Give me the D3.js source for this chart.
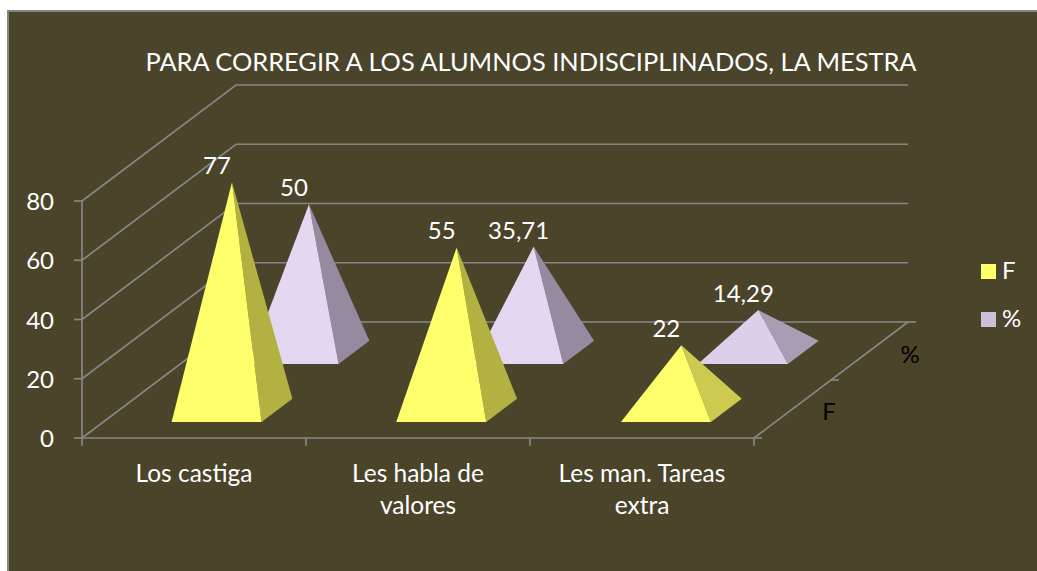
<!DOCTYPE html>
<html><head><meta charset="utf-8">
<script src="https://cdn.jsdelivr.net/npm/d3@7"></script>
<style>html,body{margin:0;padding:0;background:#fff}svg{display:block}text{font-family:Lato,"Open Sans",sans-serif}</style>
</head><body><svg id="c" width="1037" height="571"></svg>
<script>
const titleText = "PARA CORREGIR A LOS ALUMNOS INDISCIPLINADOS, LA MESTRA";
const categories = ["Los castiga", "Les habla de valores", "Les man. Tareas extra"];
const categoryLines = [["Los castiga"], ["Les habla de", "valores"], ["Les man. Tareas", "extra"]];
const seriesNames = ["F", "%"];
const valuesF = [77, 55, 22];
const valuesPct = [50, 35.71, 14.29];
const labelsF = ["77", "55", "22"];
const labelsPct = ["50", "35,71", "14,29"];
const yTicks = [0, 20, 40, 60, 80];

const svg = d3.select("#c");
const grid = "#868686", bg = "#4A442A";
svg.append("rect").attr("x", 8).attr("y", 11).attr("width", 1040).attr("height", 580)
  .attr("fill", bg).attr("stroke", grid).attr("stroke-width", 2);

// 3D projection: plot floor sheared along depth axis
const x0 = 82, y0 = 438, depthDx = 154, depthDy = -116;
const xAxisScale = d3.scaleBand().domain(categories).range([x0, 754]);
const xBars = d3.scaleBand().domain(categories).range([x0 + 1, 757]);
const yH = d3.scaleLinear().domain([0, 80]).range([0, 237]);
const depth = d3.scaleBand().domain(seriesNames).range([0, 1]);
const proj = (x, d, h = 0) => [x + depthDx * d, y0 + depthDy * d - h];

// back wall + side gridlines
const gl = svg.append("g").attr("fill", "none").attr("stroke", grid).attr("stroke-width", 1.7);
yTicks.forEach(t => {
  const a = proj(x0, 0, yH(t)), b = proj(x0, 1, yH(t)), c = proj(754, 1, yH(t));
  gl.append("path").attr("d", d3.line()([a, b, c]));
  gl.append("line").attr("x1", x0 - 8).attr("x2", x0).attr("y1", a[1]).attr("y2", a[1]);
});
gl.append("line").attr("x1", x0).attr("x2", x0).attr("y1", proj(x0, 0, yH(80))[1]).attr("y2", y0);
// floor front and right edges
gl.append("line").attr("x1", x0).attr("x2", 754).attr("y1", y0).attr("y2", y0);
const fr0 = proj(754, 0), fr1 = proj(754, 1);
gl.append("line").attr("x1", fr0[0]).attr("y1", fr0[1]).attr("x2", fr1[0]).attr("y2", fr1[1]);
[0, 0.5, 1].forEach(d => {
  const p = proj(754, d);
  gl.append("line").attr("x1", p[0]).attr("x2", p[0] + 8).attr("y1", p[1]).attr("y2", p[1]);
});
[...categories.map(c => xAxisScale(c)), 754].forEach(x => {
  gl.append("line").attr("x1", x).attr("x2", x).attr("y1", y0).attr("y2", y0 + 8);
});

// pyramids: back series first, then front series
const sideF = d3.scaleLinear().domain([22, 35]).range(["#CCCB50", "#B3B142"]).clamp(true);
const sidePct = d3.scaleLinear().domain([14, 35]).range(["#A89EB4", "#958A9F"]).clamp(true);
const frontPct = d3.scaleLinear().domain([14, 35]).range(["#DCCFE9", "#E4D7F2"]).clamp(true);
const series = [
  {name: "%", values: valuesPct, labels: labelsPct, front: v => frontPct(v), side: v => sidePct(v)},
  {name: "F", values: valuesF, labels: labelsF, front: () => "#FFFF6B", side: v => sideF(v)}
];
const halfW = 45, halfD = 0.1;
const poly = d3.line();
series.forEach(s => {
  const dc = depth(s.name) + depth.bandwidth() / 2 - 0.012;
  const g = svg.append("g");
  categories.forEach((c, i) => {
    const xc = xBars(c) + xBars.bandwidth() / 2, v = s.values[i];
    const fl = proj(xc - halfW, dc - halfD), frr = proj(xc + halfW, dc - halfD), br = proj(xc + halfW, dc + halfD);
    const apex = proj(xc, dc, yH(v));
    g.append("path").attr("d", poly([apex, frr, br]) + "Z").attr("fill", s.side(v));
    g.append("path").attr("d", poly([apex, fl, frr]) + "Z").attr("fill", s.front(v));
    g.append("text").attr("x", apex[0] - 15).attr("y", apex[1] - 8).attr("text-anchor", "middle")
      .attr("font-size", 24).attr("fill", "#fff").text(s.labels[i]);
  });
});

// text
const white = (x, y, t, size = 24, anchor = "middle", fill = "#fff") =>
  svg.append("text").attr("x", x).attr("y", y).attr("text-anchor", anchor)
     .attr("font-size", size).attr("fill", fill).text(t);
white(531, 71, titleText, 25.4);
yTicks.forEach(t => white(54, y0 - yH(t) + 9, t, 24, "end"));
categories.forEach((c, i) => {
  const xc = xAxisScale(c) + xAxisScale.bandwidth() / 2;
  categoryLines[i].forEach((l, j) => white(xc, 482 + j * 32, l, 24.5));
});
white(829, 420, "F", 24, "middle", "#000");
white(910, 363, "%", 24, "middle", "#000");
[["#FFFF66", "F", 271.5], ["#CBC0DC", "%", 319.5]].forEach(([col, t, y]) => {
  svg.append("rect").attr("x", 981).attr("y", y - 7.5).attr("width", 15).attr("height", 15).attr("fill", col);
  white(1002, y + 7.5, t, 24, "start");
});
</script></body></html>
